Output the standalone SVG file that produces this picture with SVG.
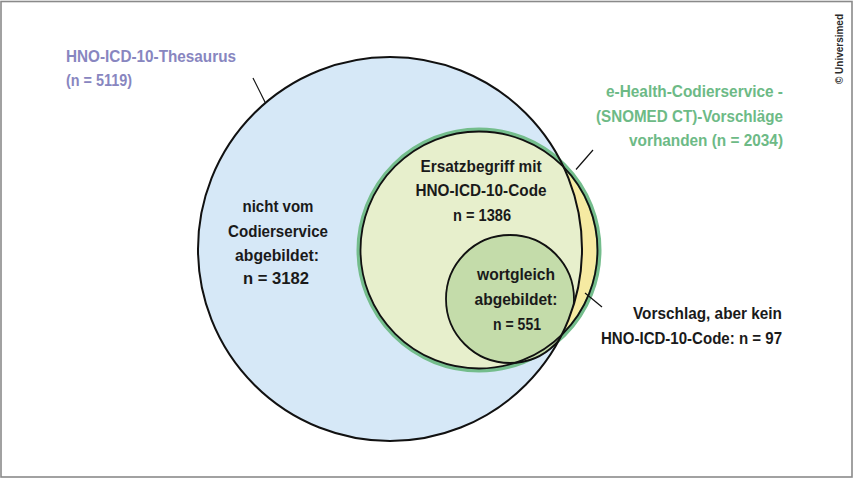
<svg xmlns="http://www.w3.org/2000/svg" width="854" height="479" viewBox="0 0 854 479">
<style>
  .lbl{font-family:"Liberation Sans",Arial,sans-serif;font-weight:bold;font-size:16.5px;fill:#1a1a1a}
  .mid{text-anchor:middle}
  .end{text-anchor:end}
  .purple{fill:#8886c0}
  .green{fill:#6dba86}
  .ptr{stroke:#111;stroke-width:1.2;fill:none}
  .outline{fill:none;stroke:#111;stroke-width:1.8}
</style>
<defs>
  <clipPath id="clipBlue"><circle cx="390" cy="249" r="192"/></clipPath>
</defs>
<rect x="1" y="1.5" width="851" height="475.5" fill="#ffffff" stroke="#8a8a8a" stroke-width="1.6"/>

<g id="thesaurus">
  <circle cx="390" cy="249" r="192" fill="#d6e8f7"/>
  <text class="lbl purple" x="66" y="62" textLength="170" lengthAdjust="spacingAndGlyphs">HNO-ICD-10-Thesaurus</text>
  <text class="lbl purple" x="66" y="86" textLength="66" lengthAdjust="spacingAndGlyphs">(n = 5119)</text>
</g>

<g id="ehealth">
  <circle cx="479" cy="250" r="120" fill="#f6eaa2" stroke="#74bd8c" stroke-width="5"/>
  <text class="lbl green end" x="783" y="97" textLength="177" lengthAdjust="spacingAndGlyphs">e-Health-Codierservice -</text>
  <text class="lbl green end" x="783" y="122" textLength="187" lengthAdjust="spacingAndGlyphs">(SNOMED CT)-Vorschläge</text>
  <text class="lbl green end" x="783" y="146" textLength="154" lengthAdjust="spacingAndGlyphs">vorhanden (n = 2034)</text>
</g>

<g id="ersatzbegriff">
  <circle cx="479" cy="250" r="118.5" fill="#e7efcc" clip-path="url(#clipBlue)"/>
  <text class="lbl mid" x="481" y="172" textLength="121" lengthAdjust="spacingAndGlyphs">Ersatzbegriff mit</text>
  <text class="lbl mid" x="481" y="196" textLength="131" lengthAdjust="spacingAndGlyphs">HNO-ICD-10-Code</text>
  <text class="lbl mid" x="482" y="221" textLength="58" lengthAdjust="spacingAndGlyphs">n = 1386</text>
</g>

<g id="wortgleich">
  <circle cx="510" cy="299" r="64" fill="#c4dcaa" clip-path="url(#clipBlue)"/>
  <circle cx="510" cy="299" r="64" class="outline" clip-path="url(#clipBlue)"/>
  <text class="lbl mid" x="516" y="280" textLength="78" lengthAdjust="spacingAndGlyphs">wortgleich</text>
  <text class="lbl mid" x="516" y="305" textLength="83" lengthAdjust="spacingAndGlyphs">abgebildet:</text>
  <text class="lbl mid" x="517" y="330" textLength="48" lengthAdjust="spacingAndGlyphs">n = 551</text>
</g>

<g id="outlines">
  <circle cx="479" cy="250" r="118.5" class="outline"/>
  <circle cx="390" cy="249" r="192" fill="none" stroke="#111" stroke-width="2"/>
</g>

<g id="nicht-abgebildet">
  <text class="lbl mid" x="278" y="212" textLength="71" lengthAdjust="spacingAndGlyphs">nicht vom</text>
  <text class="lbl mid" x="278" y="236.5" textLength="100" lengthAdjust="spacingAndGlyphs">Codierservice</text>
  <text class="lbl mid" x="277" y="260.5" textLength="84" lengthAdjust="spacingAndGlyphs">abgebildet:</text>
  <text class="lbl mid" x="276" y="284" textLength="66" lengthAdjust="spacingAndGlyphs">n = 3182</text>
</g>

<g id="vorschlag">
  <text class="lbl end" x="782" y="319" textLength="149" lengthAdjust="spacingAndGlyphs">Vorschlag, aber kein</text>
  <text class="lbl end" x="782" y="344" textLength="181" lengthAdjust="spacingAndGlyphs">HNO-ICD-10-Code: n = 97</text>
</g>

<g id="connectors">
  <line class="ptr" x1="253" y1="78" x2="265.5" y2="103"/>
  <line class="ptr" x1="593" y1="150" x2="576" y2="169.5"/>
  <line class="ptr" x1="585" y1="293" x2="602" y2="307"/>
</g>

<g id="copyright">
  <text x="843" y="84" transform="rotate(-90 843 84)" font-family="Liberation Sans, Arial, sans-serif" font-size="10.5" font-weight="bold" fill="#2a2a2a" textLength="70" lengthAdjust="spacingAndGlyphs">© Universimed</text>
</g>
</svg>
